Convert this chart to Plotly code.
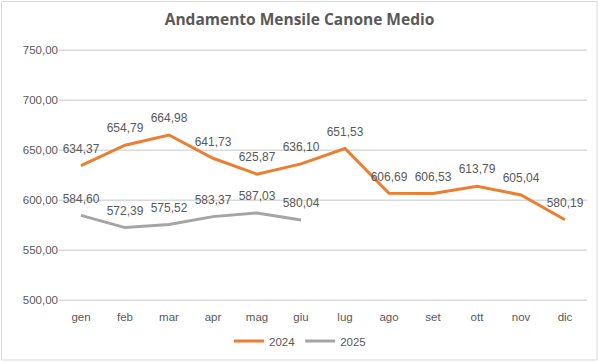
import plotly.graph_objects as go

months = ["gen", "feb", "mar", "apr", "mag", "giu", "lug", "ago", "set", "ott", "nov", "dic"]
values_2024 = [634.37, 654.79, 664.98, 641.73, 625.87, 636.10, 651.53, 606.69, 606.53, 613.79, 605.04, 580.19]
months_2025 = ["gen", "feb", "mar", "apr", "mag", "giu"]
values_2025 = [584.60, 572.39, 575.52, 583.37, 587.03, 580.04]
y_ticks = [500, 550, 600, 650, 700, 750]

def fmt(v):
    return f"{v:.2f}".replace(".", ",")

FONT = "Liberation Sans"
GREY_TXT = "#595959"
GRID = "#D9D9D9"

fig = go.Figure()
for xs, ys, name, col in [(months, values_2024, "2024", "#ED7D31"),
                          (months_2025, values_2025, "2025", "#A5A5A5")]:
    fig.add_trace(go.Scatter(
        x=xs, y=ys, name=name, mode="lines+markers+text",
        line=dict(color=col, width=3),
        marker=dict(size=14, color="rgba(0,0,0,0)", line=dict(width=0)),
        text=[fmt(v) for v in ys], textposition="top center",
        textfont=dict(family=FONT, size=12, color=GREY_TXT),
        cliponaxis=False, hoverinfo="skip",
    ))

W, H = 599, 362
L, R, T, B = 59, 12, 47, 59
pw, ph = W - L - R, H - T - B

def px_x(p):
    return (p - L) / pw

def px_y(p):
    return (H - B - p) / ph

shapes = [dict(type="line", xref="paper", yref="y", x0=0, x1=1, y0=v, y1=v,
               line=dict(color=GRID, width=1), layer="below") for v in y_ticks]
shapes.append(dict(type="rect", xref="paper", yref="paper",
                   x0=px_x(1.5), x1=px_x(597), y0=px_y(360), y1=px_y(1.5),
                   line=dict(color=GRID, width=1), fillcolor="rgba(0,0,0,0)", layer="below"))

fig.update_layout(
    width=W, height=H,
    margin=dict(l=L, r=R, t=T, b=B, autoexpand=False),
    paper_bgcolor="white", plot_bgcolor="white",
    separators=",.",
    font=dict(family=FONT, color=GREY_TXT, size=11),
    title=dict(text="<b>Andamento Mensile Canone Medio</b>", x=0.5, xanchor="center",
               y=1 - 20 / H, yanchor="middle",
               font=dict(family="Open Sans", size=15.5, color=GREY_TXT)),
    showlegend=True,
    legend=dict(orientation="h", x=px_x(300), xanchor="center", y=px_y(341), yanchor="middle",
                font=dict(family=FONT, size=11.5, color=GREY_TXT), traceorder="normal"),
    xaxis=dict(categoryorder="array", categoryarray=months, showgrid=False,
               showline=False, ticks="", tickfont=dict(size=11.5, color=GREY_TXT),
               range=[-0.5, 11.5], ticklabelstandoff=5),
    yaxis=dict(range=[497, 753], tickvals=y_ticks, tickformat=".2f",
               showgrid=True, gridcolor=GRID, gridwidth=1, zeroline=False,
               showline=False, ticks="", tickfont=dict(size=11.5, color=GREY_TXT)),
    shapes=shapes,
)

fig.write_html("out.html", config={"displayModeBar": False, "staticPlot": True},
               post_script="document.body.style.margin='0';")
